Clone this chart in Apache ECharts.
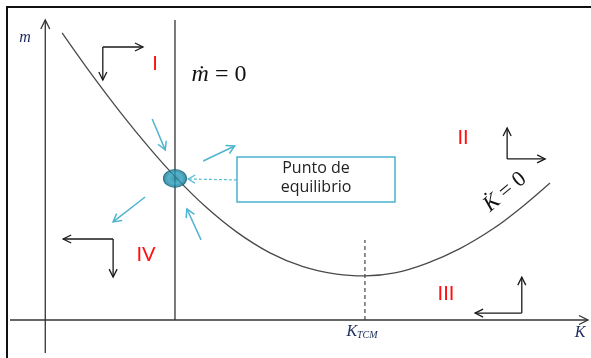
<!DOCTYPE html>
<html>
<head>
<meta charset="utf-8">
<script src="https://cdn.jsdelivr.net/npm/echarts@6/dist/echarts.min.js"></script>
<style>
html,body{margin:0;padding:0;background:#fff;}
#chart{width:591px;height:358px;}
</style>
</head>
<body>
<div id="chart"></div>
<script>
// ---- Data (abstract units: K horizontal, m vertical) ----
// K̇ = 0 locus
const curveK = [0.31, 0.82, 1.38, 1.93, 2.39, 2.94, 3.53, 4.14, 4.75, 5.37, 5.89, 6.44, 7.03, 7.64, 8.25, 8.75, 9.30];
const curveM = [9.57, 8.27, 6.93, 5.71, 4.78, 3.80, 2.93, 2.24, 1.78, 1.53, 1.47, 1.57, 1.89, 2.38, 3.04, 3.72, 4.57];
// ṁ = 0 locus (vertical) and equilibrium
const eqK = 2.39;
const eqM = 4.72;
const mdotTop = 10.0;
// K_TCM marker
const kTCM = 5.89;
const kTCMTop = 2.67;
// Axis extents
const kMin = -0.65, kMax = 10;
const mMin = -1.1, mMax = 10;
// Phase direction arrows per region
const regionNames = ['I', 'II', 'III', 'IV'];
const cornerK = [1.06, 8.51, 8.78, 1.25];
const cornerM = [9.10, 5.37, 0.23, 2.70];
const hEndK  = [1.80, 9.21, 7.92, 0.33];
const vEndM  = [8.00, 6.40, 1.43, 1.43];
// Flow arrows near equilibrium
const flowFromK = [1.97, 2.91, 1.84, 2.87];
const flowFromM = [6.70, 5.30, 4.10, 2.67];
const flowToK   = [2.21, 3.49, 1.25, 2.61];
const flowToM   = [5.67, 5.80, 3.27, 3.70];
// Callout arrow (box -> equilibrium)
const calloutFrom = [3.53, 4.67];
const calloutTo   = [2.63, 4.70];

// ---- Build ----
const curveData = curveK.map((k, i) => [k, curveM[i]]);
const axisArrows = [[kMin, 0, kMax, 0], [0, mMin, 0, mMax]];
const dirArrows = [];
for (let i = 0; i < regionNames.length; i++) {
  dirArrows.push([cornerK[i], cornerM[i], hEndK[i], cornerM[i]]);
  dirArrows.push([cornerK[i], cornerM[i], cornerK[i], vEndM[i]]);
}
const flowArrows = flowFromK.map((k, i) => [k, flowFromM[i], flowToK[i], flowToM[i]]);
const calloutArrows = [[calloutFrom[0], calloutFrom[1], calloutTo[0], calloutTo[1]]];

function arrowRenderer(color, width, headLen, headHalf, dash) {
  return function (params, api) {
    const p1 = api.coord([api.value(0), api.value(1)]);
    const p2 = api.coord([api.value(2), api.value(3)]);
    const dx = p2[0] - p1[0], dy = p2[1] - p1[1];
    const len = Math.sqrt(dx * dx + dy * dy) || 1;
    const ux = dx / len, uy = dy / len;
    const bx = p2[0] - ux * headLen, by = p2[1] - uy * headLen;
    const h1 = [bx - uy * headHalf, by + ux * headHalf];
    const h2 = [bx + uy * headHalf, by - ux * headHalf];
    return {
      type: 'group',
      children: [
        { type: 'line', shape: { x1: p1[0], y1: p1[1], x2: p2[0], y2: p2[1] },
          style: { stroke: color, lineWidth: width, lineDash: dash || null } },
        { type: 'polyline', shape: { points: [h1, p2, h2] },
          style: { stroke: color, lineWidth: width, fill: null } }
      ]
    };
  };
}

const chart = echarts.init(document.getElementById('chart'), null, { renderer: 'canvas' });
const serif = 'Liberation Serif';
const option = {
  animation: false,
  backgroundColor: '#ffffff',
  grid: { left: 10, right: 3, top: 20, bottom: 5, containLabel: false },
  xAxis: { type: 'value', min: kMin, max: kMax, show: false },
  yAxis: { type: 'value', min: mMin, max: mMax, show: false },
  series: [
    { type: 'custom', renderItem: arrowRenderer('#333333', 1.3, 9, 4.5), data: axisArrows, clip: false, silent: true, z: 2 },
    { type: 'line', data: [[eqK, 0], [eqK, mdotTop]], showSymbol: false, lineStyle: { color: '#333333', width: 1.3 }, z: 2, silent: true },
    { type: 'line', data: [[kTCM, 0], [kTCM, kTCMTop]], showSymbol: false, lineStyle: { color: '#333333', width: 1.1, type: [4, 3] }, z: 2, silent: true },
    { type: 'line', data: curveData, smooth: 0.35, showSymbol: false, lineStyle: { color: '#4a4a4a', width: 1.3 }, z: 3, silent: true },
    { type: 'custom', renderItem: arrowRenderer('#1a1a1a', 1.3, 8, 4), data: dirArrows, clip: false, silent: true, z: 4 },
    { type: 'custom', renderItem: arrowRenderer('#4fb4cf', 1.5, 8, 4.5), data: flowArrows, clip: false, silent: true, z: 4 },
    { type: 'custom', renderItem: arrowRenderer('#5bbcd6', 1.2, 7, 4, [3, 2]), data: calloutArrows, clip: false, silent: true, z: 4 },
    { type: 'scatter', data: [[eqK, eqM]], symbol: 'circle', symbolSize: [23, 18],
      itemStyle: { color: new echarts.graphic.RadialGradient(0.5, 0.5, 0.5, [
        { offset: 0, color: '#1d7f9a' }, { offset: 0.55, color: '#2a9fbd' }, { offset: 0.75, color: '#1e8aa6' }, { offset: 1, color: '#166d85' }]),
        borderColor: '#15667d', borderWidth: 1 }, z: 6, silent: true }
  ],
  graphic: [
    { type: 'rect', shape: { x: 7, y: 7, width: 700, height: 500 }, style: { fill: null, stroke: '#111111', lineWidth: 2 }, z: 100 },
    { type: 'rect', shape: { x: 237, y: 157, width: 158, height: 45 }, style: { fill: '#ffffff', stroke: '#4bb3cf', lineWidth: 1.5 }, z: 50 },
    { type: 'text', z: 51, style: { x: 316, y: 168, text: 'Punto de', fill: '#222222', font: '16px "Open Sans"', textAlign: 'center', textVerticalAlign: 'middle' } },
    { type: 'text', z: 51, style: { x: 316, y: 187, text: 'equilibrio', fill: '#222222', font: '16px "Open Sans"', textAlign: 'center', textVerticalAlign: 'middle' } },
    // Region numerals
    { type: 'text', z: 51, style: { x: 155, y: 64, text: regionNames[0], fill: '#ff1010', font: '20px Lato', textAlign: 'center', textVerticalAlign: 'middle' } },
    { type: 'text', z: 51, style: { x: 463, y: 138, text: regionNames[1], fill: '#ff1010', font: '20px Lato', textAlign: 'center', textVerticalAlign: 'middle' } },
    { type: 'text', z: 51, style: { x: 446, y: 294, text: regionNames[2], fill: '#ff1010', font: '20px Lato', textAlign: 'center', textVerticalAlign: 'middle' } },
    { type: 'text', z: 51, style: { x: 146, y: 255, text: regionNames[3], fill: '#ff1010', font: '20px Lato', textAlign: 'center', textVerticalAlign: 'middle' } },
    // Math labels
    { type: 'text', z: 51, style: { x: 219, y: 75, text: '{v|ṁ}{n| = 0}', textAlign: 'center', textVerticalAlign: 'middle',
        rich: { v: { fontFamily: serif, fontStyle: 'italic', fontSize: 24, fill: '#111' }, n: { fontFamily: serif, fontSize: 24, fill: '#111' } } } },
    { type: 'text', z: 51, x: 505, y: 192, rotation: 40 * Math.PI / 180,
      style: { x: 0, y: 0, text: '{v|K\u0307}{n| = 0}', textAlign: 'center', textVerticalAlign: 'middle',
        rich: { v: { fontFamily: serif, fontStyle: 'italic', fontSize: 22, fill: '#111' }, n: { fontFamily: serif, fontSize: 22, fill: '#111' } } } },
    { type: 'text', z: 51, style: { x: 25, y: 38, text: 'm', fill: '#1c2a5c', font: 'italic 16px ' + serif, textAlign: 'center', textVerticalAlign: 'middle' } },
    { type: 'text', z: 51, style: { x: 580, y: 333, text: 'K', fill: '#1c2a5c', font: 'italic 16px ' + serif, textAlign: 'center', textVerticalAlign: 'middle' } },
    { type: 'text', z: 51, style: { x: 362, y: 332, text: '{k|K}{s|TCM}', textAlign: 'center', textVerticalAlign: 'middle',
        rich: { k: { fontFamily: serif, fontStyle: 'italic', fontSize: 16, fill: '#1c2a5c' }, s: { fontFamily: serif, fontStyle: 'italic', fontSize: 10, fill: '#1c2a5c', padding: [6, 0, 0, 0] } } } }
  ]
};
chart.setOption(option);
</script>
</body>
</html>
